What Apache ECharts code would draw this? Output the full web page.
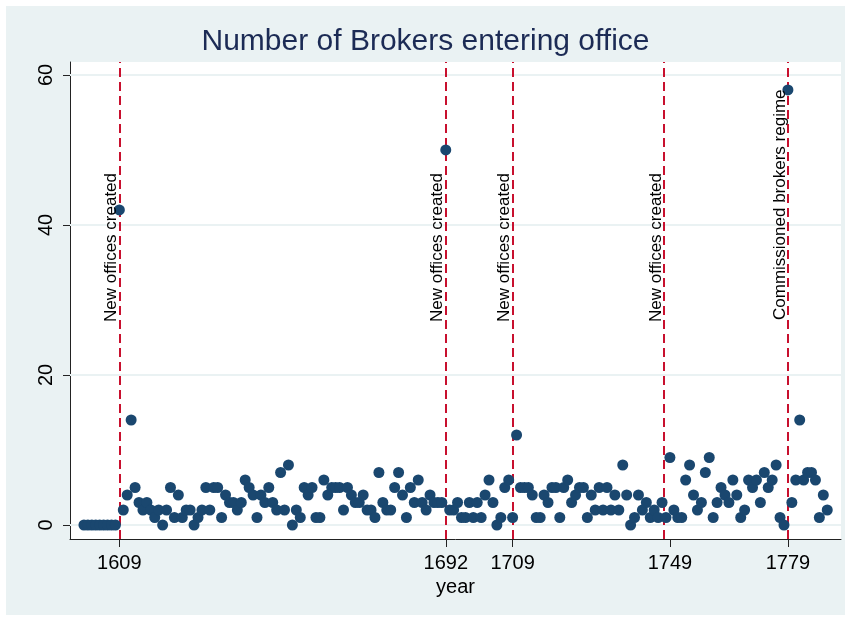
<!DOCTYPE html>
<html><head><meta charset="utf-8">
<script src="https://cdn.jsdelivr.net/npm/echarts@6/dist/echarts.min.js"></script>
<style>
html,body{margin:0;padding:0;background:#fff;}
#bg{position:absolute;left:6px;top:6px;width:839px;height:609px;background:#EAF2F3;}
#c{position:absolute;left:0;top:0;width:851px;height:621px;}
</style>
</head><body><div id="bg"></div><div id="c"></div>
<script>
const years = [
1600,1601,1602,1603,1604,1605,1606,1607,1608,1609,
1610,1611,1612,1613,1614,1615,1616,1617,1618,1619,
1620,1621,1622,1623,1624,1625,1626,1627,1628,1629,
1630,1631,1632,1633,1634,1635,1636,1637,1638,1639,
1640,1641,1642,1643,1644,1645,1646,1647,1648,1649,
1650,1651,1652,1653,1654,1655,1656,1657,1658,1659,
1660,1661,1662,1663,1664,1665,1666,1667,1668,1669,
1670,1671,1672,1673,1674,1675,1676,1677,1678,1679,
1680,1681,1682,1683,1684,1685,1686,1687,1688,1689,
1690,1691,1692,1693,1694,1695,1696,1697,1698,1699,
1700,1701,1702,1703,1704,1705,1706,1707,1708,1709,
1710,1711,1712,1713,1714,1715,1716,1717,1718,1719,
1720,1721,1722,1723,1724,1725,1726,1727,1728,1729,
1730,1731,1732,1733,1734,1735,1736,1737,1738,1739,
1740,1741,1742,1743,1744,1745,1746,1747,1748,1749,
1750,1751,1752,1753,1754,1755,1756,1757,1758,1759,
1760,1761,1762,1763,1764,1765,1766,1767,1768,1769,
1770,1771,1772,1773,1774,1775,1776,1777,1778,1779,
1780,1781,1782,1783,1784,1785,1786,1787,1788,1789];
const brokers = [
0,0,0,0,0,0,0,0,0,42,
2,4,14,5,3,2,3,2,1,2,
0,2,5,1,4,1,2,2,0,1,
2,5,2,5,5,1,4,3,3,2,
3,6,5,4,1,4,3,5,3,2,
7,2,8,0,2,1,5,4,5,1,
1,6,4,5,5,5,2,5,4,3,
3,4,2,2,1,7,3,2,2,5,
7,4,1,5,3,6,3,2,4,3,
3,3,50,2,2,3,1,1,3,1,
3,1,4,6,3,0,1,5,6,1,
12,5,5,5,4,1,1,4,3,5,
5,1,5,6,3,4,5,5,1,4,
2,5,2,5,2,4,2,8,4,0,
1,4,2,3,1,2,1,3,1,9,
2,1,1,6,8,4,2,3,7,9,
1,3,5,4,3,6,4,1,2,6,
5,6,3,7,5,6,8,1,0,58,
3,6,14,6,7,7,6,1,4,2];
const xTickValues = [1609, 1692, 1709, 1749, 1779];
const yTickValues = [0, 20, 40, 60];
const eventYears = [1609, 1692, 1709, 1747.5, 1779];
const eventLabels = ['New offices created','New offices created','New offices created','New offices created','Commissioned brokers regime'];
const eventLabelY = [37, 37, 37, 37, 42.7];

const FONT = "'Liberation Sans',Arial,sans-serif";
const chart = echarts.init(document.getElementById('c'), null, {renderer:'canvas'});
chart.setOption({
  animation: false,
  backgroundColor: 'transparent',
  textStyle: {fontFamily: FONT},
  title: {
    text: 'Number of Brokers entering office',
    left: 'center', top: 22,
    textStyle: {fontFamily: FONT, fontSize: 30, fontWeight: 'normal', color: '#1C2B55'}
  },
  grid: {left: 70, right: 10, top: 62, bottom: 82, show: true, backgroundColor: '#ffffff', borderWidth: 0},
  xAxis: {
    type: 'value', min: 1596.45, max: 1792.5,
    axisLine: {show: true, onZero: false, lineStyle: {color: '#222', width: 1}},
    axisTick: {show: true, customValues: xTickValues, length: 8, lineStyle: {color: '#222'}},
    axisLabel: {customValues: xTickValues, margin: 14, fontSize: 20, color: '#000', fontFamily: FONT,
      formatter: v => String(v)},
    splitLine: {show: false},
    name: 'year', nameLocation: 'middle', nameGap: 38,
    nameTextStyle: {fontSize: 20, color: '#000', fontFamily: FONT}
  },
  yAxis: {
    type: 'value', min: -1.867, max: 61.73,
    axisLine: {show: true, onZero: false, lineStyle: {color: '#222', width: 1}},
    axisTick: {show: true, customValues: yTickValues, length: 7, lineStyle: {color: '#222'}},
    axisLabel: {customValues: yTickValues, rotate: 90, margin: 14, fontSize: 20, color: '#000', fontFamily: FONT,
      formatter: v => String(v)},
    splitLine: {show: false}
  },
  series: [
    {
      name: 'gridlines', type: 'scatter', data: [], z: 1, silent: true,
      markLine: {
        silent: true, symbol: ['none','none'], z: 1,
        label: {show: false},
        lineStyle: {color: '#EAF2F3', width: 2, type: 'solid'},
        data: yTickValues.map(v => ({yAxis: v}))
      }
    },
    {
      name: 'events', type: 'scatter', data: [], z: 2, silent: true,
      markLine: {
        silent: true, symbol: ['none','none'], z: 2,
        label: {show: false},
        lineStyle: {color: '#C8102E', width: 2, type: [9, 5]},
        data: eventYears.map(v => ({xAxis: v}))
      },
      markPoint: {
        silent: true, symbol: 'circle', symbolSize: 0, z: 6,
        label: {show: true, position: 'inside', rotate: 90, offset: [0, -8], formatter: '{b}',
          fontSize: 17, color: '#000', fontFamily: FONT},
        data: eventYears.map((x, i) => ({name: eventLabels[i], coord: [x, eventLabelY[i]]}))
      }
    },
    {
      name: 'brokers', type: 'scatter', z: 3,
      symbol: 'circle', symbolSize: 11,
      itemStyle: {color: '#1A476F', opacity: 1},
      data: years.map((y, i) => [y, brokers[i]])
    }
  ]
});
</script>
</body></html>
